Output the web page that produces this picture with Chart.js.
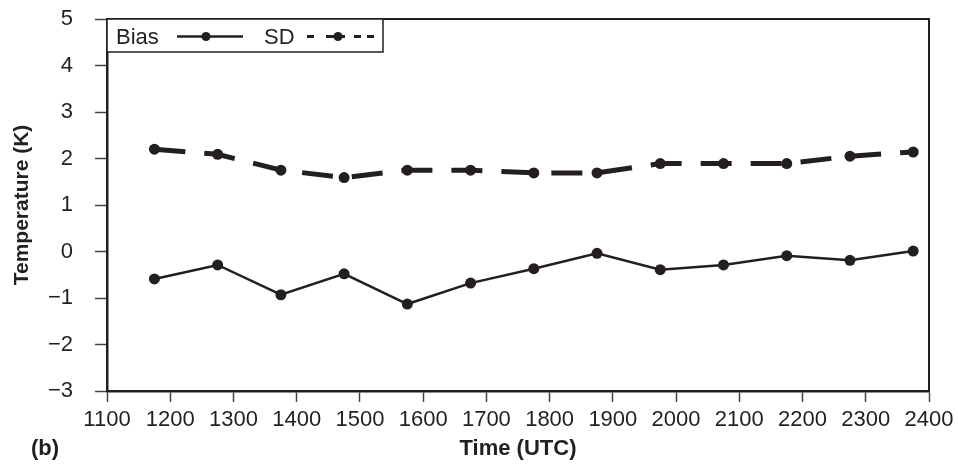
<!DOCTYPE html>
<html>
<head>
<meta charset="utf-8">
<script src="https://cdn.jsdelivr.net/npm/chart.js@4/dist/chart.umd.min.js"></script>
<style>
  html, body { margin: 0; padding: 0; background: #ffffff; }
  #wrap { width: 958px; height: 465px; }
</style>
</head>
<body>
<div id="wrap"><canvas id="c" width="958" height="465"></canvas></div>
<script>
// ---- data ----
const times = [1175, 1275, 1375, 1475, 1575, 1675, 1775, 1875, 1975, 2075, 2175, 2275, 2375];
const bias  = [-0.59, -0.29, -0.93, -0.48, -1.13, -0.68, -0.37, -0.04, -0.39, -0.29, -0.09, -0.19, 0.01];
const sd    = [2.20, 2.09, 1.75, 1.59, 1.75, 1.75, 1.69, 1.69, 1.89, 1.89, 1.89, 2.05, 2.14];
const seriesNames = ['Bias', 'SD'];
const xTitle = 'Time (UTC)';
const yTitle = 'Temperature (K)';
const panelLabel = '(b)';

const INK = '#231f20';
const FONT = "'Liberation Sans', Arial, Helvetica, sans-serif";

const toPts = (ys) => times.map((t, i) => ({ x: t, y: ys[i] }));
const fmtMinus = (v) => (v < 0 ? '\u2212' + Math.abs(v) : String(v));

const framePlugin = {
  id: 'frame',
  afterDraw(chart) {
    const { ctx, chartArea: a } = chart;
    ctx.save();
    // top and right frame lines
    ctx.strokeStyle = INK;
    ctx.lineWidth = 2;
    ctx.beginPath();
    ctx.moveTo(a.left, a.top);
    ctx.lineTo(a.right, a.top);
    ctx.lineTo(a.right, a.bottom);
    ctx.stroke();

    // legend box
    const bx = a.left, by = a.top, bw = 276, bh = 33;
    ctx.fillStyle = '#ffffff';
    ctx.fillRect(bx, by, bw, bh);
    ctx.lineWidth = 1.5;
    ctx.strokeRect(bx, by, bw, bh);
    const cy = by + 17.5;
    ctx.fillStyle = INK;
    ctx.font = '22px ' + FONT;
    ctx.textBaseline = 'middle';
    ctx.textAlign = 'left';
    ctx.fillText(seriesNames[0], bx + 9, cy + 1);
    ctx.fillText(seriesNames[1], bx + 157, cy + 1);
    // Bias sample
    ctx.lineWidth = 2.5;
    ctx.beginPath();
    ctx.moveTo(bx + 70, cy); ctx.lineTo(bx + 136, cy); ctx.stroke();
    ctx.beginPath(); ctx.arc(bx + 99, cy, 4.5, 0, Math.PI * 2); ctx.fill();
    // SD sample (dashed)
    ctx.lineWidth = 3;
    [[200, 207], [219, 238], [247, 254], [260, 267]].forEach(([s, e]) => {
      ctx.beginPath(); ctx.moveTo(bx + s, cy); ctx.lineTo(bx + e, cy); ctx.stroke();
    });
    ctx.beginPath(); ctx.arc(bx + 231, cy, 4.5, 0, Math.PI * 2); ctx.fill();

    // panel label
    ctx.font = 'bold 22px ' + FONT;
    ctx.textAlign = 'left';
    ctx.textBaseline = 'middle';
    ctx.fillText(panelLabel, 31, 449);
    ctx.restore();
  }
};

new Chart(document.getElementById('c'), {
  type: 'line',
  data: {
    datasets: [
      {
        label: seriesNames[0],
        data: toPts(bias),
        borderColor: INK,
        backgroundColor: INK,
        borderWidth: 2.5,
        pointRadius: 5.5,
        pointBackgroundColor: INK,
        pointBorderWidth: 0,
        tension: 0,
        fill: false
      },
      {
        label: seriesNames[1],
        data: toPts(sd),
        borderColor: INK,
        backgroundColor: INK,
        borderWidth: 5,
        borderDash: [31, 19],
        pointRadius: 5.5,
        pointBackgroundColor: INK,
        pointBorderWidth: 0,
        tension: 0,
        fill: false
      }
    ]
  },
  options: {
    responsive: false,
    animation: false,
    devicePixelRatio: 1,
    layout: { padding: { top: 19, right: 29, left: 0, bottom: 0 } },
    plugins: { legend: { display: false }, tooltip: { enabled: false } },
    scales: {
      x: {
        type: 'linear',
        min: 1100, max: 2400,
        afterFit: (s) => { s.height = 74; s.paddingLeft = 0; s.paddingRight = 0; },
        ticks: { stepSize: 100, color: INK, font: { family: FONT, size: 22 }, padding: 5, maxRotation: 0, autoSkip: false, callback: (v) => String(v) },
        grid: { drawOnChartArea: false, drawTicks: true, tickLength: 11, tickColor: '#444', tickWidth: 1.5 },
        border: { display: true, color: INK, width: 2.5 },
        title: { display: true, text: xTitle, color: INK, font: { family: FONT, size: 22, weight: 'bold', lineHeight: 1.2 }, padding: { top: 0, bottom: 3 } }
      },
      y: {
        min: -3, max: 5,
        afterFit: (s) => { s.width = 107; s.paddingTop = 0; s.paddingBottom = 0; },
        ticks: { stepSize: 1, color: INK, font: { family: FONT, size: 22 }, padding: 22, callback: (v) => fmtMinus(v) },
        grid: { drawOnChartArea: false, drawTicks: true, tickLength: 12, tickColor: '#444', tickWidth: 1.5 },
        border: { display: true, color: INK, width: 2.5 },
        title: { display: true, text: yTitle, color: INK, font: { family: FONT, size: 21, weight: 'bold', lineHeight: 1.2 }, padding: { top: 10, bottom: 0 } }
      }
    }
  },
  plugins: [framePlugin]
});
</script>
</body>
</html>
